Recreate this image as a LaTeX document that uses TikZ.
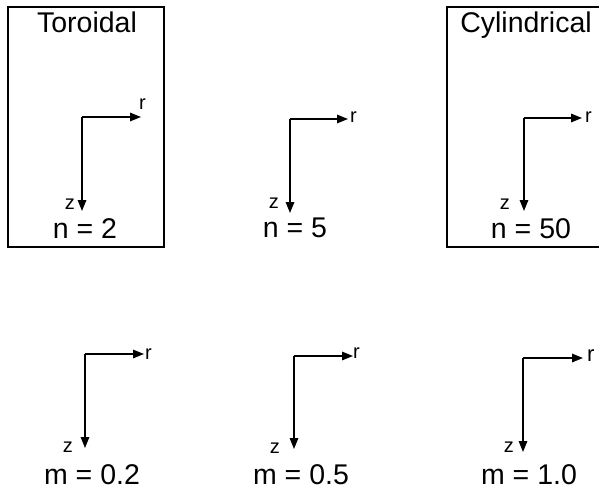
\documentclass[tikz,border=0pt]{standalone}
\usepackage{fontspec}
\setmainfont{Liberation Sans}
\usetikzlibrary{arrows.meta}
\begin{document}
\begin{tikzpicture}[x=1pt,y=-1pt,
  axis/.style={line width=1.5pt,-{Triangle[length=11pt,width=8.5pt]}},
  frame/.style={draw,line width=1.1pt},
  big/.style={inner sep=0pt,anchor=base,font=\fontsize{28.5}{30}\selectfont},
  small/.style={inner sep=0pt,font=\fontsize{20}{22}\selectfont}]
\useasboundingbox (0,0) rectangle (599,489);
\clip (0,0) rectangle (599,489);
% frames
\draw[frame] (8,7) rectangle (164,247);
\draw[frame] (447,7) rectangle (620,247);
\node[big] (t1) at (87,33) {Toroidal};
\node[big] (t3) at (526,33) {Cylindrical};
% axis 1
\coordinate (c1) at (82,117);
\coordinate (r1) at (141,117);
\coordinate (z1) at (82,211);
\draw[axis] (c1) -- (r1);
\draw[axis] (c1) -- (z1);
\node[small,anchor=base west] (rl1) at (139,110) {r};
\node[small,anchor=base east] (zl1) at (75,209) {z};
\node[big] (n1) at (85,238) {n = 2};
% axis 2
\coordinate (c2) at (290,119);
\coordinate (r2) at (348,119);
\coordinate (z2) at (290,213);
\draw[axis] (c2) -- (r2);
\draw[axis] (c2) -- (z2);
\node[small,anchor=base west] (rl2) at (350,123) {r};
\node[small,anchor=base east] (zl2) at (279,208) {z};
\node[big] (n2) at (295,237) {n = 5};
% axis 3
\coordinate (c3) at (524,118);
\coordinate (r3) at (582,118);
\coordinate (z3) at (524,211);
\draw[axis] (c3) -- (r3);
\draw[axis] (c3) -- (z3);
\node[small,anchor=base west] (rl3) at (585,123) {r};
\node[small,anchor=base east] (zl3) at (510,209) {z};
\node[big] (n3) at (531,238) {n = 50};
% axis 4
\coordinate (c4) at (85,354);
\coordinate (r4) at (144,354);
\coordinate (z4) at (85,448);
\draw[axis] (c4) -- (r4);
\draw[axis] (c4) -- (z4);
\node[small,anchor=base west] (rl4) at (145,359) {r};
\node[small,anchor=base east] (zl4) at (73,452) {z};
\node[big] (m4) at (92,484) {m = 0.2};
% axis 5
\coordinate (c5) at (294,356);
\coordinate (r5) at (353,356);
\coordinate (z5) at (294,449);
\draw[axis] (c5) -- (r5);
\draw[axis] (c5) -- (z5);
\node[small,anchor=base west] (rl5) at (353,358) {r};
\node[small,anchor=base east] (zl5) at (280,453) {z};
\node[big] (m5) at (301,484) {m = 0.5};
% axis 6
\coordinate (c6) at (523,358);
\coordinate (r6) at (583,358);
\coordinate (z6) at (523,452);
\draw[axis] (c6) -- (r6);
\draw[axis] (c6) -- (z6);
\node[inner sep=0pt,font=\fontsize{22}{24}\selectfont,anchor=base west] (rl6) at (587,361) {r};
\node[small,anchor=base east] (zl6) at (514,452) {z};
\node[big] (m6) at (529,484) {m = 1.0};
\end{tikzpicture}
\end{document}
